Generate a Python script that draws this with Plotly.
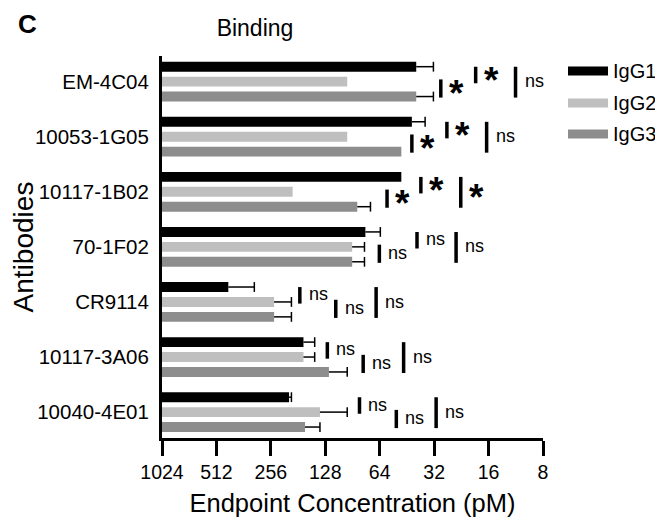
import math
import plotly.graph_objects as go

# ---------------- data ----------------
antibodies = ["EM-4C04", "10053-1G05", "10117-1B02", "70-1F02", "CR9114", "10117-3A06", "10040-4E01"]
series_names = ["IgG1", "IgG2", "IgG3"]
igg1 = [40.2, 42.5, 48.6, 76.8, 440.0, 169.0, 203.0]
igg2 = [96.8, 96.8, 194.0, 90.9, 245.6, 169.0, 137.0]
igg3 = [40.2, 48.6, 85.2, 90.9, 245.6, 122.2, 165.7]
igg1_err = [7.9, 6.6, 0.0, 13.3, 124.0, 22.5, 6.0]
igg2_err = [0.0, 0.0, 0.0, 13.2, 48.6, 22.5, 40.2]
igg3_err = [7.9, 0.0, 13.2, 13.2, 48.6, 25.4, 28.7]
x_ticks = [1024, 512, 256, 128, 64, 32, 16, 8]
x_ticklabels = ["1024", "512", "256", "128", "64", "32", "16", "8"]

# significance comparisons per antibody
sig_pairs = [
    ["23", "12", "13"],
    ["23", "12", "13"],
    ["23", "12", "13"],
    ["23", "12", "13"],
    ["12", "23", "13"],
    ["12", "23", "13"],
    ["12", "23", "13"],
]
sig_labels = [
    ["*", "*", "ns"],
    ["*", "*", "ns"],
    ["*", "*", "*"],
    ["ns", "ns", "ns"],
    ["ns", "ns", "ns"],
    ["ns", "ns", "ns"],
    ["ns", "ns", "ns"],
]
# x location (pM) of each significance bracket
sig_x = [
    [29.4, 18.86, 11.35],
    [42.5, 27.2, 16.4],
    [58.3, 37.9, 22.8],
    [64.3, 39.8, 24.2],
    [177.0, 112.0, 67.0],
    [124.7, 79.0, 47.2],
    [82.8, 51.8, 31.2],
]

# ---------------- style ----------------
colors = ["#000000", "#bfbfbf", "#8d8d8d"]
FONT = "Arial, Liberation Sans, Helvetica, sans-serif"
BASE = 1024
offsets = [-0.271, 0.0, 0.271]
bar_w = 0.18
span = {"12": (-0.27, 0.03), "23": (-0.04, 0.29), "13": (-0.27, 0.29)}

PAGE_OFF = 8  # browser body margin
W, H = 663 - PAGE_OFF, 523 - PAGE_OFF
ML, MR, MT, MB = 162 - PAGE_OFF, 120, 56 - PAGE_OFF, 85
PW, PH = W - ML - MR, H - MT - MB


def px2paper_x(px):  # px given in page coordinates
    return (px - PAGE_OFF - ML) / PW


def px2paper_y(py):
    return (H - MB - (py - PAGE_OFF)) / PH


fig = go.Figure()
values = [igg1, igg2, igg3]
errors = [igg1_err, igg2_err, igg3_err]

for s, name in enumerate(series_names):
    ys = [i + offsets[s] for i in range(len(antibodies))]
    fig.add_trace(go.Bar(
        orientation="h", name=name, y=ys,
        x=[v - BASE for v in values[s]], base=BASE,
        width=bar_w, marker=dict(color=colors[s], line=dict(width=0)),
        showlegend=False,
    ))

# error bars (one-sided toward lower concentration)
for s in range(3):
    lx, ly, cx, cy = [], [], [], []
    for i, (v, e) in enumerate(zip(values[s], errors[s])):
        if e <= 0:
            continue
        y = i + offsets[s]
        lx += [v, v - e, None]
        ly += [y, y, None]
        cx.append(v - e)
        cy.append(y)
    fig.add_trace(go.Scatter(x=lx, y=ly, mode="lines", line=dict(color="black", width=1.5),
                             showlegend=False, hoverinfo="skip"))
    fig.add_trace(go.Scatter(x=cx, y=cy, mode="markers",
                             marker=dict(symbol="line-ns", size=7, line=dict(color="black", width=1.5)),
                             showlegend=False, hoverinfo="skip"))

# significance brackets
bx, by = [], []
annotations = []
for i in range(len(antibodies)):
    for pair, lab, xv in zip(sig_pairs[i], sig_labels[i], sig_x[i]):
        y0, y1 = span[pair]
        bx += [xv, xv, None]
        by += [i + y0, i + y1, None]
        star = lab == "*"
        annotations.append(dict(
            x=math.log10(xv), y=i + (y0 + y1) / 2, xref="x", yref="y",
            text=lab, showarrow=False, xanchor="left", yanchor="middle",
            xshift=6 if star else 7, yshift=-5 if star else 1,
            font=dict(family=FONT, size=37 if star else 18, color="black",
                      weight="bold" if star else "normal"),
        ))
fig.add_trace(go.Scatter(x=bx, y=by, mode="lines", line=dict(color="black", width=3.5),
                         showlegend=False, hoverinfo="skip"))

# manual legend
legend_y = [71, 103, 134]
shapes = []
for s, name in enumerate(series_names):
    yc = legend_y[s]
    shapes.append(dict(type="rect", xref="paper", yref="paper",
                       x0=px2paper_x(568), x1=px2paper_x(608),
                       y0=px2paper_y(yc + 4.5), y1=px2paper_y(yc - 4.5),
                       fillcolor=colors[s], line=dict(width=0)))
    annotations.append(dict(x=px2paper_x(611), y=px2paper_y(yc), xref="paper", yref="paper",
                            text=name, showarrow=False, xanchor="left", yanchor="middle",
                            font=dict(family=FONT, size=20, color="black")))

# panel letter
annotations.append(dict(x=px2paper_x(27), y=px2paper_y(24), xref="paper", yref="paper",
                        text="<b>C</b>", showarrow=False, xanchor="center", yanchor="middle",
                        font=dict(family=FONT, size=26, color="black")))

fig.update_layout(
    width=W, height=H,
    margin=dict(l=ML, r=MR, t=MT, b=MB, autoexpand=False),
    paper_bgcolor="white", plot_bgcolor="white",
    barmode="overlay",
    title=dict(text="Binding", x=(255 - PAGE_OFF) / W, xref="container", xanchor="center",
               y=1 - (28 - PAGE_OFF) / H, yref="container", yanchor="middle",
               font=dict(family=FONT, size=23, color="black")),
    font=dict(family=FONT, color="black"),
    shapes=shapes,
    annotations=annotations,
)
fig.update_xaxes(
    type="log", range=[math.log10(1024), math.log10(8)],
    tickvals=x_ticks, ticktext=x_ticklabels,
    ticks="outside", ticklen=15, tickwidth=3, tickcolor="black",
    showline=True, linewidth=3, linecolor="black",
    showgrid=False, zeroline=False,
    tickfont=dict(family=FONT, size=19.5, color="black"),
    title=dict(text="Endpoint Concentration (pM)", font=dict(family=FONT, size=25.5, color="black"),
               standoff=12),
)
fig.update_yaxes(
    range=[6.47, -0.465],
    tickvals=list(range(len(antibodies))), ticktext=antibodies,
    ticks="", showline=True, linewidth=3, linecolor="black",
    showgrid=False, zeroline=False,
    tickfont=dict(family=FONT, size=20.5, color="black"),
    ticklabelstandoff=6,
    title=dict(text="Antibodies", font=dict(family=FONT, size=28, color="black"), standoff=30),
)

fig.write_html("out.html")
